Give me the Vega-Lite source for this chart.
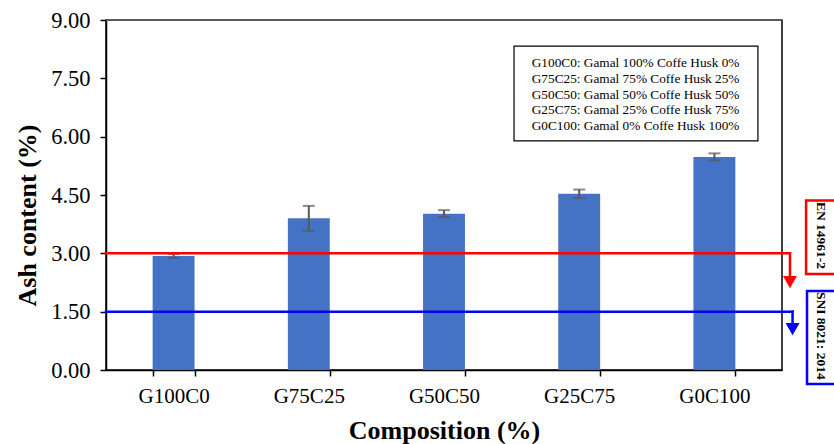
{
  "$schema": "https://vega.github.io/schema/vega-lite/v6.json",
  "width": 676,
  "height": 350,
  "autosize": {"type": "none"},
  "padding": {"left": 106, "top": 20, "right": 52, "bottom": 74},
  "config": {
    "view": {"stroke": "black", "strokeWidth": 1.5},
    "font": "Liberation Serif",
    "axis": {
      "domainColor": "black", "domainWidth": 1.5,
      "tickColor": "black", "tickWidth": 1.5, "tickSize": 6,
      "labelFont": "Liberation Serif", "labelFontSize": 21, "labelColor": "black",
      "titleFont": "Liberation Serif", "titleFontSize": 26, "titleFontWeight": "bold", "titleColor": "black",
      "grid": false
    }
  },
  "datasets": {
    "ash": [
      {"composition": "G100C0", "ash": 2.93, "sd": 0.05},
      {"composition": "G75C25", "ash": 3.90, "sd": 0.32},
      {"composition": "G50C50", "ash": 4.02, "sd": 0.09},
      {"composition": "G25C75", "ash": 4.53, "sd": 0.11},
      {"composition": "G0C100", "ash": 5.48, "sd": 0.09}
    ],
    "standards": [
      {"standard": "EN 14961-2", "limit": 3.0},
      {"standard": "SNI 8021: 2014", "limit": 1.5}
    ],
    "legend": [
      {"code": "G100C0", "text": "G100C0: Gamal 100% Coffe Husk 0%"},
      {"code": "G75C25", "text": "G75C25: Gamal 75% Coffe Husk 25%"},
      {"code": "G50C50", "text": "G50C50: Gamal 50% Coffe Husk 50%"},
      {"code": "G25C75", "text": "G25C75: Gamal 25% Coffe Husk 75%"},
      {"code": "G0C100", "text": "G0C100: Gamal 0% Coffe Husk 100%"}
    ]
  },
  "resolve": {
    "scale": {"x": "independent", "y": "independent"},
    "axis": {"x": "independent", "y": "independent"}
  },
  "layer": [
    {
      "data": {"name": "ash"},
      "layer": [
        {
          "mark": {"type": "bar", "color": "#4472C4"},
          "encoding": {
            "x": {
              "field": "composition", "type": "nominal", "sort": null,
              "scale": {"paddingInner": 0.69, "paddingOuter": 0.345},
              "title": "Composition (%)",
              "axis": {"labelAngle": 0, "tickBand": "extent", "labelPadding": 9, "titlePadding": 11}
            },
            "y": {
              "field": "ash", "type": "quantitative",
              "scale": {"domain": [0, 9], "nice": false},
              "title": "Ash content (%)",
              "axis": {
                "values": [0, 1.5, 3, 4.5, 6, 7.5, 9], "format": ".2f",
                "labelFontSize": 22.5,
                "labelPadding": 10, "titlePadding": 10, "titleY": 195
              }
            }
          }
        },
        {
          "mark": {
            "type": "errorbar", "color": "#595959",
            "ticks": {"size": 12, "thickness": 2, "color": "#595959"},
            "rule": {"strokeWidth": 2, "color": "#595959"}
          },
          "encoding": {
            "x": {"field": "composition", "type": "nominal", "sort": null, "title": "Composition (%)"},
            "y": {"field": "ash", "type": "quantitative", "title": "Ash content (%)"},
            "yError": {"field": "sd"}
          }
        },
        {
          "mark": {"type": "rule", "color": "#595959", "strokeWidth": 2},
          "encoding": {"y": {"datum": 9, "type": "quantitative", "title": "Ash content (%)"}}
        }
      ]
    },
    {
      "data": {"name": "standards"},
      "layer": [
        {
          "transform": [{"filter": "datum.standard === 'EN 14961-2'"}],
          "layer": [
            {
              "mark": {"type": "rule", "color": "#FF0000", "strokeWidth": 2.5, "strokeCap": "square"},
              "encoding": {
                "x": {"datum": 0, "type": "quantitative", "scale": {"domain": [0, 5], "nice": false}, "axis": null},
                "x2": {"datum": 5.059},
                "y": {"field": "limit", "type": "quantitative", "scale": {"domain": [0, 9], "nice": false}, "axis": null}
              }
            },
            {
              "mark": {"type": "rule", "color": "#FF0000", "strokeWidth": 2.5, "strokeCap": "square"},
              "encoding": {
                "x": {"datum": 5.059, "type": "quantitative", "scale": {"domain": [0, 5], "nice": false}, "axis": null},
                "y": {"field": "limit", "type": "quantitative", "scale": {"domain": [0, 9], "nice": false}, "axis": null},
                "y2": {"datum": 2.42}
              }
            },
            {
              "mark": {"type": "point", "shape": "triangle-down", "filled": true, "size": 196, "color": "#FF0000", "opacity": 1},
              "encoding": {
                "x": {"datum": 5.059, "type": "quantitative", "scale": {"domain": [0, 5], "nice": false}, "axis": null},
                "y": {"datum": 2.26, "type": "quantitative", "scale": {"domain": [0, 9], "nice": false}, "axis": null}
              }
            },
            {
              "mark": {"type": "rect", "fill": "white", "stroke": "#FF0000", "strokeWidth": 2.5},
              "encoding": {
                "x": {"datum": 5.178, "type": "quantitative", "scale": {"domain": [0, 5], "nice": false}, "axis": null},
                "x2": {"datum": 5.6},
                "y": {"datum": 4.36, "type": "quantitative", "scale": {"domain": [0, 9], "nice": false}, "axis": null},
                "y2": {"datum": 2.47}
              }
            },
            {
              "mark": {"type": "text", "angle": 90, "font": "Liberation Serif", "fontWeight": "bold", "fontSize": 13.5, "color": "black", "align": "center", "baseline": "middle"},
              "encoding": {
                "x": {"datum": 5.285, "type": "quantitative", "scale": {"domain": [0, 5], "nice": false}, "axis": null},
                "y": {"datum": 3.46, "type": "quantitative", "scale": {"domain": [0, 9], "nice": false}, "axis": null},
                "text": {"field": "standard"}
              }
            }
          ]
        },
        {
          "transform": [{"filter": "datum.standard === 'SNI 8021: 2014'"}],
          "layer": [
            {
              "mark": {"type": "rule", "color": "#0000FF", "strokeWidth": 2.5, "strokeCap": "square"},
              "encoding": {
                "x": {"datum": 0, "type": "quantitative", "scale": {"domain": [0, 5], "nice": false}, "axis": null},
                "x2": {"datum": 5.078},
                "y": {"field": "limit", "type": "quantitative", "scale": {"domain": [0, 9], "nice": false}, "axis": null}
              }
            },
            {
              "mark": {"type": "rule", "color": "#0000FF", "strokeWidth": 2.5, "strokeCap": "square"},
              "encoding": {
                "x": {"datum": 5.078, "type": "quantitative", "scale": {"domain": [0, 5], "nice": false}, "axis": null},
                "y": {"field": "limit", "type": "quantitative", "scale": {"domain": [0, 9], "nice": false}, "axis": null},
                "y2": {"datum": 1.21}
              }
            },
            {
              "mark": {"type": "point", "shape": "triangle-down", "filled": true, "size": 196, "color": "#0000FF", "opacity": 1},
              "encoding": {
                "x": {"datum": 5.078, "type": "quantitative", "scale": {"domain": [0, 5], "nice": false}, "axis": null},
                "y": {"datum": 1.05, "type": "quantitative", "scale": {"domain": [0, 9], "nice": false}, "axis": null}
              }
            },
            {
              "mark": {"type": "rect", "fill": "white", "stroke": "#0000FF", "strokeWidth": 2.5},
              "encoding": {
                "x": {"datum": 5.185, "type": "quantitative", "scale": {"domain": [0, 5], "nice": false}, "axis": null},
                "x2": {"datum": 5.6},
                "y": {"datum": 2.03, "type": "quantitative", "scale": {"domain": [0, 9], "nice": false}, "axis": null},
                "y2": {"datum": -0.36}
              }
            },
            {
              "mark": {"type": "text", "angle": 90, "font": "Liberation Serif", "fontWeight": "bold", "fontSize": 13.5, "color": "black", "align": "center", "baseline": "middle"},
              "encoding": {
                "x": {"datum": 5.285, "type": "quantitative", "scale": {"domain": [0, 5], "nice": false}, "axis": null},
                "y": {"datum": 0.88, "type": "quantitative", "scale": {"domain": [0, 9], "nice": false}, "axis": null},
                "text": {"field": "standard"}
              }
            }
          ]
        },
        {
          "transform": [{"filter": "datum.standard === 'EN 14961-2'"}],
          "mark": {"type": "rect", "fill": "white", "stroke": "black", "strokeWidth": 1.2},
          "encoding": {
            "x": {"datum": 3.018, "type": "quantitative", "scale": {"domain": [0, 5], "nice": false}, "axis": null},
            "x2": {"datum": 4.822},
            "y": {"datum": 8.33, "type": "quantitative", "scale": {"domain": [0, 9], "nice": false}, "axis": null},
            "y2": {"datum": 5.89}
          }
        }
      ]
    },
    {
      "data": {"name": "legend"},
      "mark": {"type": "text", "align": "left", "baseline": "middle", "font": "Liberation Serif", "fontSize": 13.3, "color": "black"},
      "encoding": {
        "x": {"datum": 3.149, "type": "quantitative", "scale": {"domain": [0, 5], "nice": false}, "axis": null},
        "y": {"field": "code", "type": "ordinal", "sort": null, "scale": {"type": "point", "range": [43, 106], "padding": 0}, "axis": null},
        "text": {"field": "text"}
      }
    }
  ]
}
